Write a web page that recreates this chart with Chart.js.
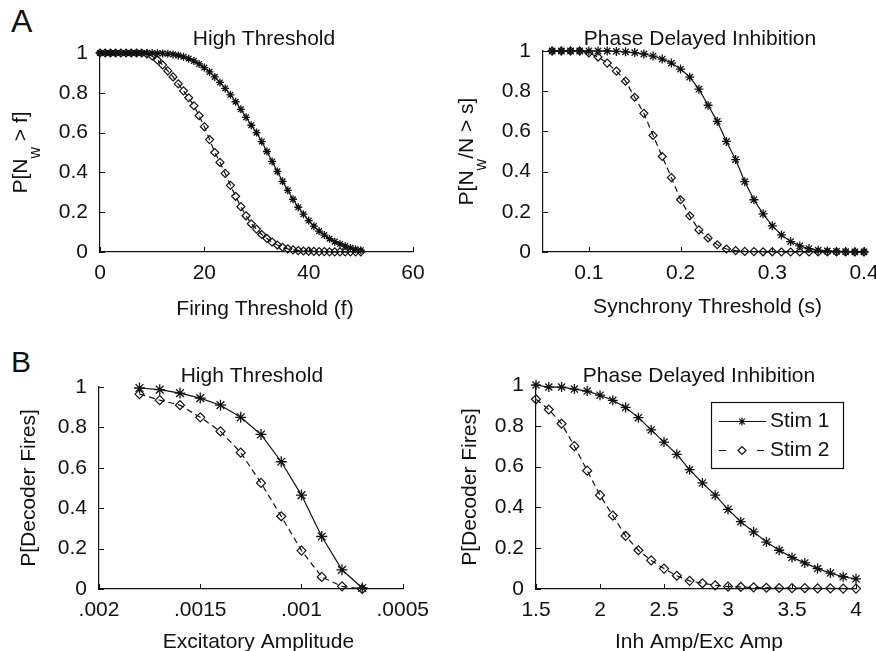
<!DOCTYPE html>
<html>
<head>
<meta charset="utf-8">
<title>Decoder firing probability</title>
<script src="https://cdn.jsdelivr.net/npm/chart.js@4.4.1/dist/chart.umd.min.js"></script>
<style>
  html, body { margin: 0; padding: 0; background: #fff; }
  body { width: 876px; height: 651px; position: relative; overflow: hidden; font-family: 'Liberation Sans', Arial, sans-serif; }
  canvas { position: absolute; }
  .panel-letter { position: absolute; color: #111; }
</style>
</head>
<body>
<div class="panel-letter" style="left:11px;top:5px;font-size:32px;line-height:32px">A</div>
<div class="panel-letter" style="left:11px;top:347px;font-size:30px;line-height:30px">B</div>
<canvas id="chartA1" width="438" height="330" style="left:0;top:0"></canvas>
<canvas id="chartA2" width="460" height="330" style="left:438px;top:0"></canvas>
<canvas id="chartB1" width="438" height="326" style="left:0;top:325px"></canvas>
<canvas id="chartB2" width="438" height="326" style="left:438px;top:325px"></canvas>
<script>
const FONT = "'Liberation Sans', Arial, Helvetica, sans-serif";
const INK = '#111';

const seriesNames = ['Stim 1', 'Stim 2'];
const yTicks = [0, 0.2, 0.4, 0.6, 0.8, 1];

// A, left - High Threshold
const a1FiringThreshold = [0, 1, 2, 3, 4, 5, 6, 7, 8, 9, 10, 11, 12, 13, 14, 15, 16, 17, 18, 19, 20, 21, 22, 23, 24, 25,
    26, 27, 28, 29, 30, 31, 32, 33, 34, 35, 36, 37, 38, 39, 40, 41, 42, 43, 44, 45, 46, 47, 48, 49, 50];
const a1Stim1 = [1, 1, 1, 1, 1, 1, 1, 1, 1, 1,
    1, 0.999, 0.998, 0.996, 0.993, 0.988, 0.981, 0.972, 0.96, 0.945,
    0.927, 0.905, 0.88, 0.852, 0.822, 0.79, 0.755, 0.717, 0.677, 0.637,
    0.6, 0.555, 0.505, 0.455, 0.405, 0.355, 0.31, 0.265, 0.225, 0.19,
    0.158, 0.13, 0.105, 0.085, 0.067, 0.052, 0.04, 0.03, 0.021, 0.014,
    0.009];
const a1Stim2 = [1, 1, 1, 1, 1, 1, 1, 1, 1, 0.995,
    0.985, 0.965, 0.94, 0.91, 0.88, 0.845, 0.81, 0.775, 0.735, 0.685,
    0.63, 0.565, 0.5, 0.45, 0.395, 0.335, 0.28, 0.228, 0.182, 0.142,
    0.115, 0.088, 0.068, 0.05, 0.035, 0.024, 0.016, 0.011, 0.007, 0.005,
    0.004, 0.003, 0.002, 0.002, 0.001, 0.001, 0.001, 0.001, 0.001, 0.001,
    0.001];
const a1XTicks = [0, 20, 40, 60];

// A, right - Phase Delayed Inhibition
const a2SynchronyThreshold = [0.06, 0.07, 0.08, 0.09, 0.10, 0.11, 0.12, 0.13, 0.14, 0.15, 0.16, 0.17,
    0.18, 0.19, 0.20, 0.21, 0.22, 0.23, 0.24, 0.25, 0.26, 0.27, 0.28, 0.29, 0.30, 0.31, 0.32, 0.33,
    0.34, 0.35, 0.36, 0.37, 0.38, 0.39, 0.40];
const a2Stim1 = [1, 1, 1, 1, 1, 1, 1,
    0.998, 0.996, 0.992, 0.985, 0.975, 0.96, 0.94, 0.91, 0.87,
    0.81, 0.73, 0.65, 0.55, 0.46, 0.35, 0.26, 0.19, 0.13, 0.085,
    0.052, 0.03, 0.017, 0.009, 0.005, 0.003, 0.002, 0.001, 0.001];
const a2Stim2 = [1, 1, 1, 1,
    0.99, 0.97, 0.94, 0.9, 0.85, 0.77, 0.69, 0.58, 0.475, 0.37, 0.26, 0.18, 0.11, 0.07, 0.036, 0.015, 0.007, 0.003,
    0.002, 0.001, 0.001, 0, 0, 0, 0, 0, 0, 0, 0, 0, 0];
const a2XTicks = [0.1, 0.2, 0.3, 0.4];

// B, left - High Threshold
const b1ExcAmplitude = [0.0018, 0.0017, 0.0016, 0.0015, 0.0014, 0.0013, 0.0012, 0.0011, 0.001, 0.0009, 0.0008, 0.0007];
const b1Stim1 = [0.995, 0.987, 0.97, 0.945, 0.91, 0.85, 0.765, 0.63, 0.465, 0.26, 0.095, 0.005];
const b1Stim2 = [0.965, 0.935, 0.91, 0.85, 0.78, 0.675, 0.525, 0.36, 0.19, 0.06, 0.013, 0];
const b1XTicks = [0.002, 0.0015, 0.001, 0.0005];
const b1XTickLabels = ['.002', '.0015', '.001', '.0005'];

// B, right - Phase Delayed Inhibition
const b2AmpRatio = [1.5, 1.6, 1.7, 1.8, 1.9, 2.0, 2.1, 2.2, 2.3, 2.4, 2.5, 2.6, 2.7, 2.8, 2.9, 3.0,
    3.1, 3.2, 3.3, 3.4, 3.5, 3.6, 3.7, 3.8, 3.9, 4.0];
const b2Stim1 = [1, 0.99, 0.99, 0.98, 0.97, 0.95, 0.925, 0.89, 0.84, 0.78,
    0.72, 0.66, 0.585, 0.52, 0.46, 0.39, 0.33, 0.28, 0.23, 0.19,
    0.155, 0.128, 0.1, 0.078, 0.06, 0.05];
const b2Stim2 = [0.93, 0.88, 0.81, 0.7, 0.58, 0.46, 0.36, 0.26, 0.19, 0.14,
    0.1, 0.065, 0.04, 0.028, 0.018, 0.012, 0.01, 0.008, 0.006, 0.005,
    0.004, 0.004, 0.003, 0.003, 0.002, 0.002];
const b2XTicks = [1.5, 2, 2.5, 3, 3.5, 4];

const toPoints = (xs, ys) => xs.map((x, i) => ({ x: x, y: ys[i] }));

// matlab style ticks pointing into the axes
const inwardTicks = {
    id: 'inwardTicks',
    beforeDatasetsDraw(chart) {
        const { ctx, chartArea: a, scales: { x, y } } = chart;
        ctx.save();
        ctx.strokeStyle = INK;
        ctx.lineWidth = 1;
        ctx.beginPath();
        x.ticks.forEach(t => {
            const px = Math.round(x.getPixelForValue(t.value)) + 0.5;
            ctx.moveTo(px, a.bottom);
            ctx.lineTo(px, a.bottom - 5);
        });
        y.ticks.forEach(t => {
            const py = Math.round(y.getPixelForValue(t.value)) + 0.5;
            ctx.moveTo(a.left, py);
            ctx.lineTo(a.left + 5, py);
        });
        ctx.stroke();
        ctx.restore();
    }
};

// titles (y label needs a subscript, so draw them ourselves)
const panelText = {
    id: 'panelText',
    afterDraw(chart, args, o) {
        const { ctx, chartArea: a } = chart;
        const cx = (a.left + a.right) / 2;
        ctx.save();
        ctx.fillStyle = INK;
        ctx.textBaseline = 'alphabetic';
        ctx.textAlign = 'center';
        ctx.font = `21px ${FONT}`;
        ctx.fillText(o.title, cx + o.titleDx, a.top + o.titleDy);
        ctx.fillText(o.xTitle, cx + o.xTitleDx, a.bottom + o.xTitleDy);

        ctx.translate(a.left + o.yTitleDx, (a.top + a.bottom) / 2);
        ctx.rotate(-Math.PI / 2);
        ctx.textAlign = 'left';
        const parts = o.yTitle.map(p => ({ text: p[0], sub: !!p[1] }));
        let total = 0;
        parts.forEach(p => {
            ctx.font = `${p.sub ? 16 : 21}px ${FONT}`;
            p.w = ctx.measureText(p.text).width;
            total += p.w;
        });
        let px = -total / 2;
        parts.forEach(p => {
            ctx.font = `${p.sub ? 16 : 21}px ${FONT}`;
            ctx.fillText(p.text, px, p.sub ? 13 : 0);
            px += p.w;
        });
        ctx.restore();
    }
};

const stimLegend = {
    id: 'stimLegend',
    afterDraw(chart, args, o) {
        if (!o.show) return;
        const { ctx, chartArea: a } = chart;
        const left = Math.round(a.right - o.right - o.width);
        const top = Math.round(a.top + o.top);
        ctx.save();
        ctx.fillStyle = '#fff';
        ctx.fillRect(left, top, o.width, o.height);
        ctx.strokeStyle = INK;
        ctx.lineWidth = 1.2;
        ctx.strokeRect(left + 0.5, top + 0.5, o.width, o.height);
        chart.data.datasets.forEach((ds, i) => {
            const y = top + o.rowY[i] + 0.5;
            ctx.strokeStyle = INK;
            ctx.lineWidth = 1.2;
            ctx.setLineDash(ds.borderDash ? o.dash : []);
            ctx.beginPath();
            ctx.moveTo(left + o.lineX0, y);
            ctx.lineTo(left + o.lineX1, y);
            ctx.stroke();
            ctx.setLineDash([]);
            ctx.fillStyle = '#fff';
            Chart.helpers.drawPoint(ctx, { pointStyle: ds.pointStyle, radius: 4, borderWidth: 1.2, rotation: 0 }, left + o.markX, y);
            ctx.fillStyle = INK;
            ctx.font = `21px ${FONT}`;
            ctx.textAlign = 'left';
            ctx.textBaseline = 'middle';
            ctx.fillText(ds.label, left + o.textX, y);
        });
        ctx.restore();
    }
};

function makePanel(id, p) {
    const tickFont = { family: FONT, size: 21 };
    return new Chart(document.getElementById(id), {
        type: 'line',
        data: {
            datasets: [{
                label: seriesNames[0],
                data: toPoints(p.xs, p.stim1),
                borderColor: INK,
                borderWidth: 1.2,
                pointStyle: 'star',
                pointRadius: p.r1,
                pointBorderColor: INK,
                pointBorderWidth: 1.3,
                pointBackgroundColor: 'rgba(0,0,0,0)',
                tension: 0,
                fill: false,
                clip: false
            }, {
                label: seriesNames[1],
                data: toPoints(p.xs, p.stim2),
                borderColor: INK,
                borderWidth: 1.2,
                borderDash: [6, 4],
                pointStyle: 'rectRot',
                pointRadius: p.r2,
                pointBorderColor: INK,
                pointBorderWidth: 1.2,
                pointBackgroundColor: 'rgba(0,0,0,0)',
                tension: 0,
                fill: false,
                clip: false
            }]
        },
        options: {
            responsive: false,
            animation: false,
            events: [],
            layout: { padding: { left: 0, top: p.padTop, right: p.padRight, bottom: 0 } },
            plugins: {
                legend: { display: false },
                tooltip: { enabled: false },
                panelText: p.text,
                stimLegend: p.legend || { show: false }
            },
            scales: {
                x: {
                    type: 'linear',
                    min: p.xMin,
                    max: p.xMax,
                    reverse: !!p.reverse,
                    grid: { display: false, drawTicks: false },
                    border: { color: INK, width: 1.2 },
                    ticks: {
                        color: INK,
                        font: tickFont,
                        padding: 9,
                        maxRotation: 0,
                        autoSkip: false,
                        callback: (v, i) => p.xTickLabels ? p.xTickLabels[i] : String(v)
                    },
                    afterBuildTicks: s => { s.ticks = p.xTicks.map(v => ({ value: v })); },
                    afterFit: s => { s.height = p.xAxisHeight; }
                },
                y: {
                    min: 0,
                    max: 1,
                    grid: { display: false, drawTicks: false },
                    border: { color: INK, width: 1.2 },
                    ticks: { color: INK, font: tickFont, padding: 12, callback: v => String(v) },
                    afterBuildTicks: s => { s.ticks = yTicks.map(v => ({ value: v })); },
                    afterFit: s => { s.width = p.yAxisWidth; }
                }
            }
        },
        plugins: [inwardTicks, panelText, stimLegend]
    });
}

makePanel('chartA1', {
    xs: a1FiringThreshold, stim1: a1Stim1, stim2: a1Stim2,
    xMin: 0, xMax: 60, xTicks: a1XTicks,
    r1: 4, r2: 4,
    yAxisWidth: 100, xAxisHeight: 78, padTop: 53, padRight: 25,
    text: {
        title: 'High Threshold', titleDx: 7.5, titleDy: -8,
        xTitle: 'Firing Threshold (f)', xTitleDx: 8.5, xTitleDy: 63,
        yTitle: [['P[N'], ['w', 1], [' > f]']], yTitleDx: -73
    }
});

makePanel('chartA2', {
    xs: a2SynchronyThreshold, stim1: a2Stim1, stim2: a2Stim2,
    xMin: 0.05, xMax: 0.4, xTicks: a2XTicks,
    r1: 4.5, r2: 4,
    yAxisWidth: 105, xAxisHeight: 78, padTop: 51, padRight: 34,
    text: {
        title: 'Phase Delayed Inhibition', titleDx: -3.5, titleDy: -6,
        xTitle: 'Synchrony Threshold (s)', xTitleDx: 4, xTitleDy: 61,
        yTitle: [['P[N'], ['w', 1], ['/N > s]']], yTitleDx: -70
    }
});

makePanel('chartB1', {
    xs: b1ExcAmplitude, stim1: b1Stim1, stim2: b1Stim2,
    xMin: 0.0005, xMax: 0.002, reverse: true, xTicks: b1XTicks, xTickLabels: b1XTickLabels,
    r1: 5.5, r2: 4.5,
    yAxisWidth: 99, xAxisHeight: 62, padTop: 62, padRight: 27,
    text: {
        title: 'High Threshold', titleDx: 1, titleDy: -5,
        xTitle: 'Excitatory Amplitude', xTitleDx: 7.5, xTitleDy: 59,
        yTitle: [['P[Decoder Fires]']], yTitleDx: -64
    }
});

makePanel('chartB2', {
    xs: b2AmpRatio, stim1: b2Stim1, stim2: b2Stim2,
    xMin: 1.5, xMax: 4, xTicks: b2XTicks,
    r1: 5, r2: 4.5,
    yAxisWidth: 98, xAxisHeight: 62, padTop: 60, padRight: 20,
    text: {
        title: 'Phase Delayed Inhibition', titleDx: 3, titleDy: -3,
        xTitle: 'Inh Amp/Exc Amp', xTitleDx: 3, xTitleDy: 59,
        yTitle: [['P[Decoder Fires]']], yTitleDx: -60
    },
    legend: {
        show: true, width: 132, height: 66, right: 13, top: 17,
        rowY: [19, 48], lineX0: 8, lineX1: 55, markX: 31, textX: 59, dash: [7, 12]
    }
});
</script>
</body>
</html>
